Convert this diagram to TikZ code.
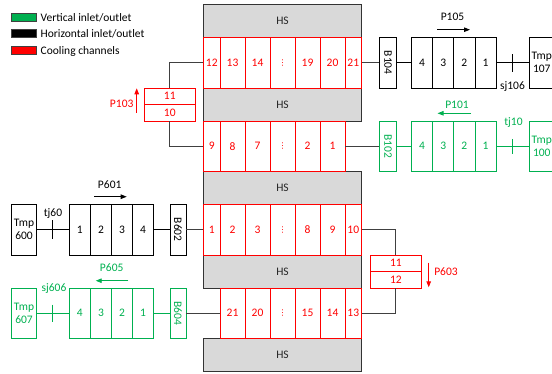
\documentclass[tikz,border=0pt]{standalone}
\usepackage{fontspec}
\setmainfont{Carlito}
\newfontfamily\dotsfont{DejaVu Sans}
\usetikzlibrary{arrows.meta,calc}
\definecolor{ogreen}{RGB}{0,176,80}
\definecolor{hsgray}{RGB}{217,217,217}
\definecolor{wiregray}{RGB}{64,64,64}
\newcommand{\skipdots}{{\dotsfont\fontsize{8}{8}\selectfont ⋮}}
\begin{document}
\begin{tikzpicture}[x=1pt,y=-1pt,
  font=\fontsize{11.5}{13}\selectfont,
  hs/.style={draw=black!80, fill=hsgray, line width=0.8pt, minimum width=158pt,
    minimum height=33pt, inner sep=0pt, text=black!85},
  chan/.style={draw=red, text=red, line width=0.6pt, minimum height=50.5pt, inner sep=0pt},
  cellbox/.style={draw=black, line width=0.7pt, minimum height=50.5pt,
    minimum width=21.125pt, inner sep=0pt},
  valve/.style={cellbox, minimum width=16.5pt},
  tmpbox/.style={cellbox, minimum width=24.5pt, align=center},
  grn/.style={draw=ogreen, text=ogreen},
  halfbox/.style={draw=red, text=red, line width=0.7pt, minimum width=50.5pt,
    minimum height=16.5pt, inner sep=0pt},
  pipe/.style={draw=wiregray, line width=0.8pt},
  flowarrow/.style={line width=0.9pt, -{Triangle[length=6pt,width=4.5pt]}},
  tickmark/.style={line width=0.8pt},
  lab/.style={inner sep=0pt},
  legbox/.style={draw=black!75, line width=0.5pt, minimum width=25pt,
    minimum height=7.7pt, inner sep=0pt}]
\useasboundingbox (0,0) rectangle (552,373);

% legend
\node[legbox, fill=ogreen] (lg1) at (24.2,17.2) {};
\node[legbox, fill=black]  (lg2) at (24.2,33.4) {};
\node[legbox, fill=red]    (lg3) at (24.2,50.5) {};
\node[lab, anchor=west] (lt1) at (40.5,17.6) {Vertical inlet/outlet};
\node[lab, anchor=west] (lt2) at (40.5,34.2) {Horizontal inlet/outlet};
\node[lab, anchor=west] (lt3) at (40.5,51.0) {Cooling channels};

% heat-sink plates
\foreach \k/\yc in {1/21,2/104.5,3/188,4/271.5,5/355}
  \node[hs] (hs\k) at (282.5,\yc) {HS};

% cooling channels between the plates
\foreach \lab/\cx/\w [count=\i] in {12/211.75/16.5,13/232.5/25,14/257.5/25,
    \skipdots/282.5/25,19/307.5/25,20/332.5/25,21/353.25/16.5}
  \node[chan, minimum width=\w pt] (r1c\i) at (\cx,62.75) {\lab};
\foreach \lab/\cx/\w [count=\i] in {9/211.75/16.5,8/232.5/25,7/257.5/25,
    \skipdots/282.5/25,2/307.5/25,1/332.5/25}
  \node[chan, minimum width=\w pt] (r2c\i) at (\cx,146.25) {\lab};
\foreach \lab/\cx/\w [count=\i] in {1/211.75/16.5,2/232.5/25,3/257.5/25,
    \skipdots/282.5/25,8/307.5/25,9/332.5/25,10/353.25/16.5}
  \node[chan, minimum width=\w pt] (r3c\i) at (\cx,229.75) {\lab};
\foreach \lab/\cx/\w [count=\i] in {21/232.5/25,20/257.5/25,
    \skipdots/282.5/25,15/307.5/25,14/332.5/25,13/353.25/16.5}
  \node[chan, minimum width=\w pt] (r4c\i) at (\cx,313.25) {\lab};

% upper right: horizontal outlet line
\node[valve] (b104) at (388,62.75) {\rotatebox{-90}{B104}};
\foreach \lab/\cx [count=\i] in {4/422.06,3/443.19,2/464.31,1/485.44}
  \node[cellbox] (k1\i) at (\cx,62.75) {\lab};
\node[tmpbox] (t107) at (541.75,62.75) {Tmp\\107};
\node[lab] (sj106) at (512.5,87) {sj106};
\node[lab] (p105) at (452.5,16.5) {P105};
\draw[flowarrow] ($(p105)+(-15.5,13.2)$) -- ($(p105)+(17.5,13.2)$);
\draw[pipe] (r1c7.east) -- (b104.west);
\draw[line width=0.7pt] (b104.east) -- (k11.west);
\draw[line width=0.7pt] (k14.east) -- (t107.west);
\draw[tickmark] ($(k14.east)!0.5!(t107.west)$) ++(0,-8.75) -- ++(0,17.5);

% second row right: vertical inlet line
\node[valve, grn] (b102) at (388,146.25) {\rotatebox{-90}{B102}};
\foreach \lab/\cx [count=\i] in {4/422.06,3/443.19,2/464.31,1/485.44}
  \node[cellbox, grn] (k2\i) at (\cx,146.25) {\lab};
\node[tmpbox, grn] (t100) at (541.75,146.25) {Tmp\\100};
\node[lab, text=ogreen] (tj10) at (513.5,122.5) {tj10};
\node[lab, text=ogreen] (p101) at (457,104.5) {P101};
\draw[flowarrow, ogreen] ($(p101)+(14,8.8)$) -- ($(p101)+(-19.5,8.8)$);
\draw[pipe] (r2c6.east) -- (b102.west);
\draw[ogreen, line width=0.7pt] (b102.east) -- (k21.west);
\draw[ogreen, line width=0.7pt] (k24.east) -- (t100.west);
\draw[tickmark, ogreen] ($(k24.east)!0.5!(t100.west)$) ++(0,-7.5) -- ++(0,15);

% left turn-around P103
\node[halfbox] (p103t) at (169.75,96.25) {11};
\node[halfbox] (p103b) at (169.75,112.75) {10};
\node[lab, text=red] (p103) at (121.7,104.3) {P103};
\draw[flowarrow, red] ($(p103)+(15,8.4)$) -- ($(p103)+(15,-16)$);
\draw[pipe] (r1c1.west) -| (p103t.north);
\draw[pipe] (p103b.south) |- (r2c1.west);

% third row left: horizontal inlet line
\node[tmpbox] (t600) at (24,229.75) {Tmp\\600};
\foreach \lab/\cx [count=\i] in {1/79.85,2/100.95,3/122.05,4/143.15}
  \node[cellbox] (k3\i) at (\cx,229.75) {\lab};
\node[valve, minimum width=16pt] (b602) at (178,229.75) {\rotatebox{-90}{B602}};
\node[lab] (tj60) at (53,213.5) {tj60};
\node[lab] (p601) at (109.7,185) {P601};
\draw[flowarrow] ($(p601)+(-15.4,11.7)$) -- ($(p601)+(17,11.7)$);
\draw[line width=0.7pt] (t600.east) -- (k31.west);
\draw[tickmark] ($(t600.east)!0.5!(k31.west)$) ++(0,-9.3) -- ++(0,18.6);
\draw[line width=0.7pt] (k34.east) -- (b602.west);
\draw[pipe] (b602.east) -- (r3c1.west);

% right turn-around P603
\node[halfbox] (p603t) at (395.85,263.25) {11};
\node[halfbox] (p603b) at (395.85,279.75) {12};
\node[lab, text=red] (p603) at (446,271.3) {P603};
\draw[flowarrow, red] ($(p603)+(-17.3,-8.6)$) -- ($(p603)+(-17.3,16)$);
\draw[pipe] (r3c7.east) -| (p603t.north);
\draw[pipe] (p603b.south) |- (r4c6.east);

% fourth row left: vertical outlet line
\node[tmpbox, grn] (t607) at (24,313.25) {Tmp\\607};
\foreach \lab/\cx [count=\i] in {4/79.85,3/100.95,2/122.05,1/143.15}
  \node[cellbox, grn] (k4\i) at (\cx,313.25) {\lab};
\node[valve, grn, minimum width=16pt] (b604) at (178,313.25) {\rotatebox{-90}{B604}};
\node[lab, text=ogreen] (sj606) at (54,289) {sj606};
\node[lab, text=ogreen] (p605) at (111.7,267.3) {P605};
\draw[flowarrow, ogreen] ($(p605)+(16.6,13.4)$) -- ($(p605)+(-16,13.4)$);
\draw[ogreen, line width=0.7pt] (t607.east) -- (k41.west);
\draw[tickmark, ogreen] ($(t607.east)!0.5!(k41.west)$) ++(0,-8.7) -- ++(0,17.4);
\draw[ogreen, line width=0.7pt] (k44.east) -- (b604.west);
\draw[pipe] (b604.east) -- (r4c1.west);
\end{tikzpicture}
\end{document}
